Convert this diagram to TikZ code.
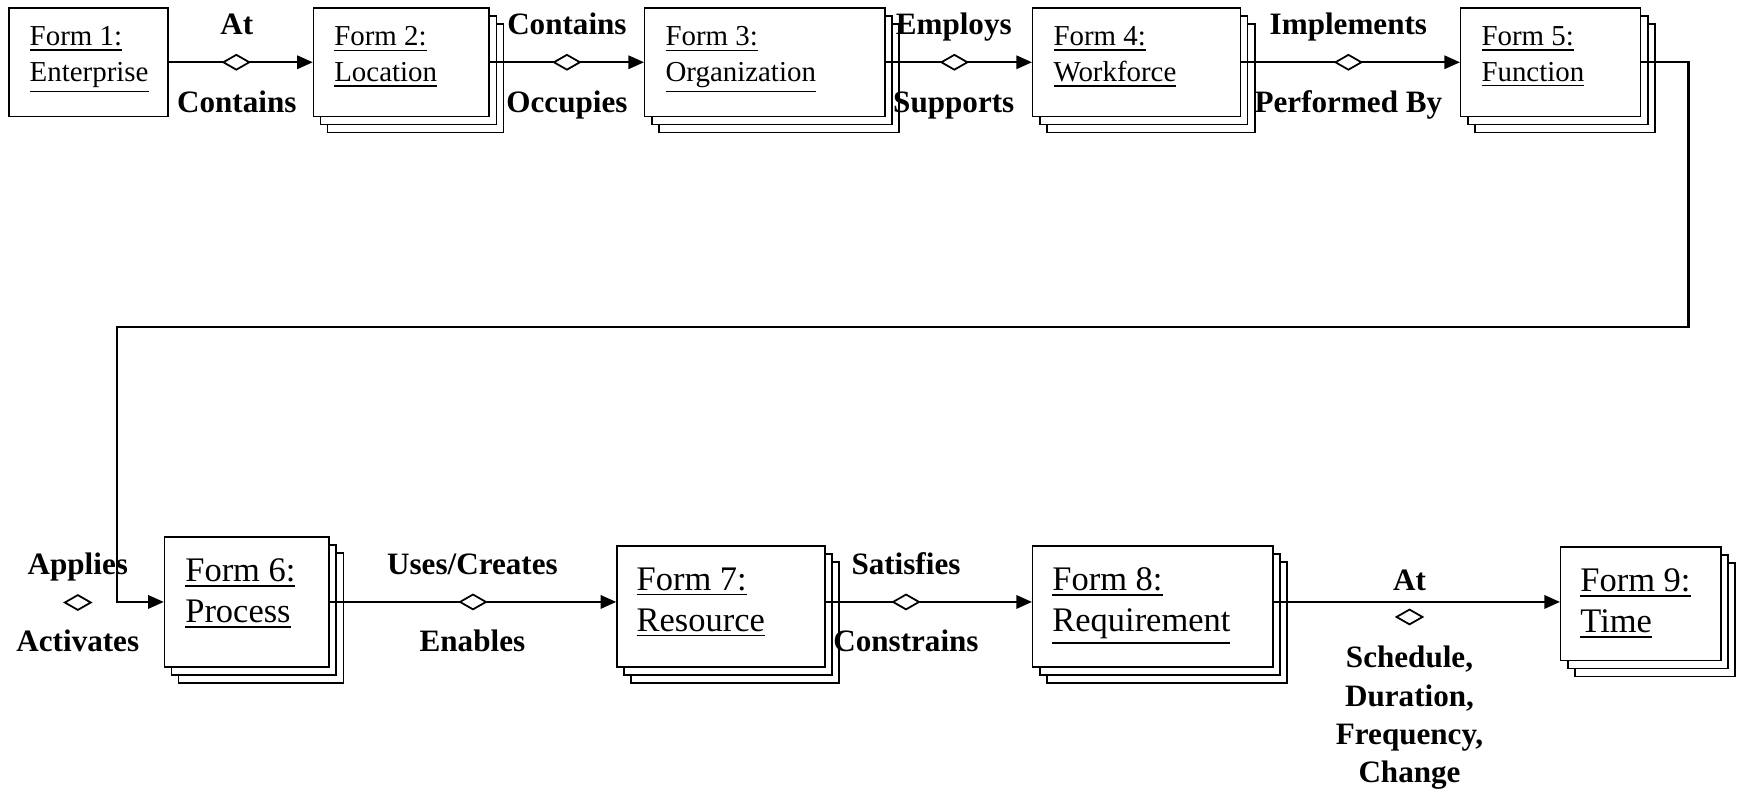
\documentclass[tikz,border=0pt]{standalone}
\usepackage{fontspec}
\setmainfont{Liberation Serif}
\usetikzlibrary{shapes.geometric, arrows.meta, shadows}
\newcommand{\uln}[1]{\setbox0=\hbox{#1}\vtop{\copy0\kern1.4pt\hrule height 0.7pt}}
\tikzset{
  form/.style={draw, fill=white, line width=0.65pt, inner sep=0pt},
  stackform/.style={form, double copy shadow={shadow xshift=3.2pt, shadow yshift=-3.6pt}},
  formtext/.style={anchor=north west, align=left, inner sep=0pt, font=\fontsize{13}{16}\selectfont},
  bigtext/.style={formtext, font=\fontsize{15.5}{18.5}\selectfont},
  rel/.style={anchor=base, inner sep=0pt, align=center, font=\fontsize{14}{17.25}\selectfont\bfseries},
  diam/.style={diamond, draw, fill=white, line width=0.8pt, minimum width=12pt, minimum height=7pt, inner sep=0pt},
  conn/.style={line width=0.95pt, -{Triangle[length=7pt, width=6pt]}}
}

\begin{document}
\begin{tikzpicture}[x=0.5pt, y=-0.5pt]
\useasboundingbox (0, 0) rectangle (1568, 709);
% upper row
\node [form, minimum width=71.5pt, minimum height=49pt] (f1) at (79.5, 56) {};
\node [stackform, minimum width=79pt, minimum height=49pt] (f2) at (361, 56) {};
\node [stackform, minimum width=108pt, minimum height=49pt] (f3) at (688, 56) {};
\node [stackform, minimum width=93.5pt, minimum height=49pt] (f4) at (1022.5, 56) {};
\node [stackform, minimum width=81pt, minimum height=49pt] (f5) at (1395, 56) {};
\node [formtext] at ([shift={(9.5pt, -8.7pt)}] f1.north west) {\uln{Form 1:}\\\uln{Enterprise}};
\node [formtext] at ([shift={(9.5pt, -8.7pt)}] f2.north west) {\uln{Form 2:}\\\uln{Location}};
\node [formtext] at ([shift={(9.5pt, -8.7pt)}] f3.north west) {\uln{Form 3:}\\\uln{Organization}};
\node [formtext] at ([shift={(9.5pt, -8.7pt)}] f4.north west) {\uln{Form 4:}\\\uln{Workforce}};
\node [formtext] at ([shift={(9.5pt, -8.7pt)}] f5.north west) {\uln{Form 5:}\\\uln{Function}};
% lower row
\node [stackform, minimum width=74pt, minimum height=58.5pt] (f6) at (222, 541.5) {};
\node [stackform, minimum width=93.5pt, minimum height=54.5pt] (f7) at (648.5, 545.5) {};
\node [stackform, minimum width=108pt, minimum height=54.5pt] (f8) at (1037, 545.5) {};
\node [stackform, minimum width=72pt, minimum height=51pt] (f9) at (1476, 543) {};
\node [bigtext] at ([shift={(9.5pt, -10pt)}] f6.north west) {\uln{Form 6:}\\\uln{Process}};
\node [bigtext] at ([shift={(9pt, -10pt)}] f7.north west) {\uln{Form 7:}\\\uln{Resource}};
\node [bigtext] at ([shift={(9pt, -10pt)}] f8.north west) {\uln{Form 8:}\\\uln{Requirement}};
\node [bigtext] at ([shift={(9pt, -10pt)}] f9.north west) {\uln{Form 9:}\\\uln{Time}};
% relations
\draw [conn] (f1.east) -- (f2.west) node [diam, pos=0.47] {};
\node [rel] at (213, 31) {At};
\node [rel] at (213, 101) {Contains};
\draw [conn] (f2.east) -- (f3.west) node [diam, pos=0.5] {};
\node [rel] at (510, 31) {Contains};
\node [rel] at (510, 101) {Occupies};
\draw [conn] (f3.east) -- (f4.west) node [diam, pos=0.47] {};
\node [rel] at (858, 31) {Employs};
\node [rel] at (858, 101) {Supports};
\draw [conn] (f4.east) -- (f5.west) node [diam, pos=0.49] {};
\node [rel] at (1213, 31) {Implements};
\node [rel] at (1213, 101) {Performed By};
\coordinate (turn) at (1519, 294);
\coordinate (back) at (105, 294);
\draw [conn] (f5.east) -| (turn) -- (back) |- (f6.west);
\node [rel] at (70, 517) {Applies};
\node [diam] at (70, 542) {};
\node [rel] at (70, 586) {Activates};
\draw [conn] (f6.east) -- (f6.east -| f7.west) node [diam, pos=0.5] {};
\node [rel] at (425, 517) {Uses/Creates};
\node [rel] at (425, 586) {Enables};
\draw [conn] (f6.east -| f7.east) -- (f6.east -| f8.west) node [diam, pos=0.39] {};
\node [rel] at (815, 517) {Satisfies};
\node [rel] at (815, 586) {Constrains};
\draw [conn] (f6.east -| f8.east) -- (f6.east -| f9.west);
\node [rel] at (1268, 531) {At};
\node [diam] at (1268, 555) {};
\node [rel, anchor=north] at (1268, 581) {Schedule,\\Duration,\\Frequency,\\Change};
\end{tikzpicture}
\end{document}
